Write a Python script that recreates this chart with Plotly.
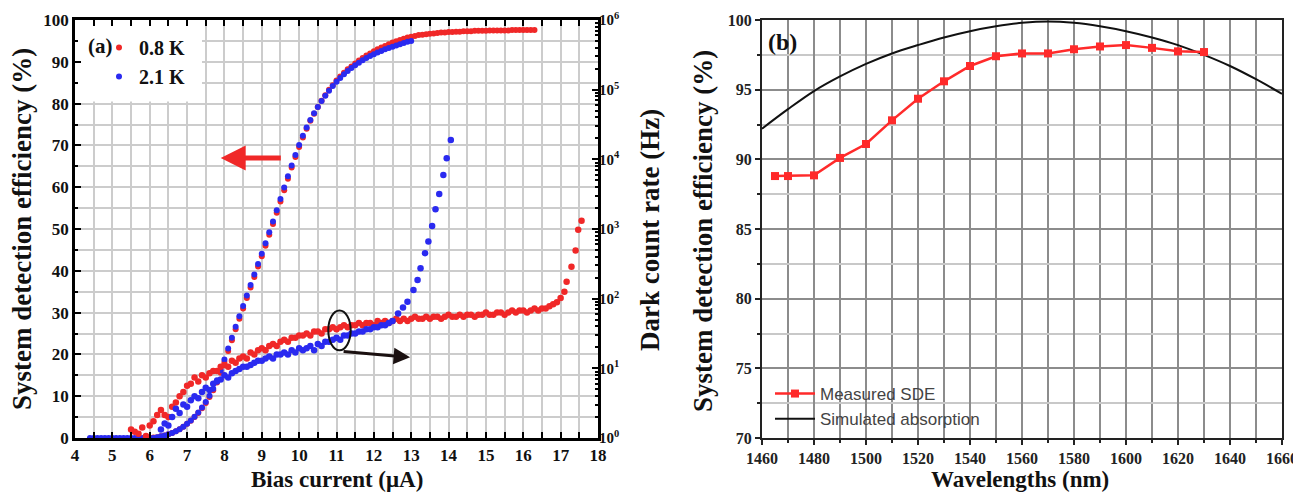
import plotly.graph_objects as go

# ---------------- Panel (a) data ----------------
# Blue (2.1 K) system detection efficiency (%)
blue_sde_I = [4.4, 4.5, 4.6, 4.7, 4.8, 4.9,
              5.0, 5.1, 5.2, 5.3, 5.4, 5.5, 5.6, 5.7, 5.8, 5.9,
              6.0, 6.1, 6.2, 6.3, 6.4, 6.5, 6.6, 6.7, 6.8, 6.9,
              7.0, 7.1, 7.2, 7.3, 7.4, 7.5, 7.6, 7.7, 7.8, 7.9,
              8.0, 8.1, 8.2, 8.3, 8.4, 8.5, 8.6, 8.7, 8.8, 8.9,
              9.0, 9.1, 9.2, 9.3, 9.4, 9.5, 9.6, 9.7, 9.8, 9.9,
              10.0, 10.1, 10.2, 10.3, 10.4, 10.5, 10.6, 10.7, 10.8, 10.9,
              11.0, 11.1, 11.2, 11.3, 11.4, 11.5, 11.6, 11.7, 11.8, 11.9,
              12.0, 12.1, 12.2, 12.3, 12.4, 12.5, 12.6, 12.7, 12.8, 12.9,
              13.0]
blue_sde = [0, 0, 0, 0, 0, 0,
            0, 0, 0, 0, 0, 0, 0, 0, 0, 0,
            0, 0, 0.2, 0.4, 0.6, 0.9, 1.2, 1.6, 2.1, 2.7,
            3.4, 4.2, 5.1, 6.1, 7.3, 8.6, 10.1, 11.8, 13.8, 16.2,
            18.8, 21.4, 24.0, 26.6, 29.1, 31.6, 34.1, 36.6, 39.1, 41.6,
            44.1, 46.6, 49.2, 51.8, 54.5, 57.2, 59.9, 62.6, 65.2, 67.7,
            70.1, 72.3, 74.3, 76.1, 77.7, 79.2, 80.6, 81.9, 83.1, 84.2,
            85.2, 86.1, 87.0, 87.8, 88.5, 89.2, 89.8, 90.4, 90.9, 91.4,
            91.8, 92.2, 92.6, 93.0, 93.3, 93.6, 93.9, 94.2, 94.5, 94.8,
            95.0]

# Red (0.8 K) system detection efficiency (%)
red_sde_I = [6.0, 6.1, 6.2, 6.3, 6.4, 6.5, 6.6, 6.7, 6.8, 6.9,
             7.0, 7.1, 7.2, 7.3, 7.4, 7.5, 7.6, 7.7, 7.8, 7.9,
             8.0, 8.1, 8.2, 8.3, 8.4, 8.5, 8.6, 8.7, 8.8, 8.9,
             9.0, 9.1, 9.2, 9.3, 9.4, 9.5, 9.6, 9.7, 9.8, 9.9,
             10.0, 10.1, 10.2, 10.3, 10.4, 10.5, 10.6, 10.7, 10.8, 10.9,
             11.0, 11.1, 11.2, 11.3, 11.4, 11.5, 11.6, 11.7, 11.8, 11.9,
             12.0, 12.1, 12.2, 12.3, 12.4, 12.5, 12.6, 12.7, 12.8, 12.9,
             13.0, 13.1, 13.2, 13.3, 13.4, 13.5, 13.6, 13.7, 13.8, 13.9,
             14.0, 14.1, 14.2, 14.3, 14.4, 14.5, 14.6, 14.7, 14.8, 14.9,
             15.0, 15.1, 15.2, 15.3, 15.4, 15.5, 15.6, 15.7, 15.8, 15.9,
             16.0, 16.1, 16.2, 16.3]
red_sde = [0.0, 0.1, 0.2, 0.4, 0.6, 0.9, 1.2, 1.6, 2.1, 2.7,
           3.4, 4.1, 5.0, 6.0, 7.1, 8.4, 9.8, 11.4, 13.3, 15.6,
           18.2, 20.8, 23.4, 26.0, 28.5, 31.0, 33.5, 36.0, 38.5, 41.0,
           43.5, 46.0, 48.6, 51.2, 53.9, 56.6, 59.3, 62.0, 64.7, 67.2,
           69.6, 71.9, 74.0, 75.9, 77.6, 79.2, 80.7, 82.0, 83.3, 84.4,
           85.5, 86.5, 87.4, 88.2, 88.9, 89.6, 90.3, 90.9, 91.5, 92.0,
           92.5, 93.0, 93.4, 93.8, 94.2, 94.6, 94.9, 95.2, 95.5, 95.8,
           96.0, 96.2, 96.4, 96.5, 96.6, 96.7, 96.8, 96.9, 97.0, 97.0,
           97.1, 97.1, 97.2, 97.2, 97.3, 97.3, 97.3, 97.4, 97.4, 97.4,
           97.4, 97.5, 97.5, 97.5, 97.5, 97.5, 97.5, 97.6, 97.6, 97.6,
           97.6, 97.6, 97.6, 97.6]

# Red (0.8 K) dark count rate (Hz)
red_dcr_I = [5.5, 5.6, 5.7, 5.8, 5.9,
             6.0, 6.1, 6.2, 6.3, 6.4, 6.5, 6.6, 6.7, 6.8, 6.9,
             7.0, 7.1, 7.2, 7.3, 7.4, 7.5, 7.6, 7.7, 7.8, 7.9,
             8.0, 8.1, 8.2, 8.3, 8.4, 8.5, 8.6, 8.7, 8.8, 8.9,
             9.0, 9.1, 9.2, 9.3, 9.4, 9.5, 9.6, 9.7, 9.8, 9.9,
             10.0, 10.1, 10.2, 10.3, 10.4, 10.5, 10.6, 10.7, 10.8, 10.9,
             11.0, 11.1, 11.2, 11.3, 11.4, 11.5, 11.6, 11.7, 11.8, 11.9,
             12.0, 12.1, 12.2, 12.3, 12.4, 12.5, 12.6, 12.7, 12.8, 12.9,
             13.0, 13.1, 13.2, 13.3, 13.4, 13.5, 13.6, 13.7, 13.8, 13.9,
             14.0, 14.1, 14.2, 14.3, 14.4, 14.5, 14.6, 14.7, 14.8, 14.9,
             15.0, 15.1, 15.2, 15.3, 15.4, 15.5, 15.6, 15.7, 15.8, 15.9,
             16.0, 16.1, 16.2, 16.3, 16.4, 16.5, 16.6, 16.7, 16.8, 16.9,
             17.0, 17.1, 17.16, 17.29, 17.4, 17.47, 17.56]
red_dcr = [1.32, 1.23, 1.15, 1.41, 1.07,
           1.51, 1.74, 2.14, 2.52, 2.14, 2.00, 2.82, 3.24, 3.98, 4.57,
           5.62, 6.03, 7.41, 6.46, 7.94, 7.41, 8.51, 9.12, 9.12, 10.5,
           11.2, 10.5, 12.9, 12.0, 13.8, 14.8, 13.8, 16.9, 15.8, 18.2,
           19.5, 18.2, 20.9, 22.4, 20.9, 24.0, 25.7, 24.0, 27.5, 27.5,
           29.5, 29.5, 31.6, 29.5, 33.9, 33.9, 31.6, 36.3, 36.3, 38.9,
           36.3, 38.9, 41.7, 38.9, 41.7, 41.7, 44.7, 41.7, 44.7, 44.7,
           41.7, 47.9, 44.7, 47.9, 44.7, 47.9, 51.3, 47.9, 51.3, 47.9,
           51.3, 55.0, 51.3, 51.3, 55.0, 51.3, 55.0, 55.0, 51.3, 55.0,
           58.9, 55.0, 55.0, 58.9, 55.0, 58.9, 58.9, 55.0, 58.9, 58.9,
           63.1, 58.9, 58.9, 63.1, 63.1, 58.9, 63.1, 67.6, 63.1, 67.6,
           67.6, 63.1, 67.6, 72.4, 67.6, 72.4, 72.4, 77.6, 83.2, 89.1,
           102, 126, 175, 288, 490, 977, 1318]

# Blue (2.1 K) dark count rate (Hz)
blue_dcr_I = [6.3, 6.4, 6.5, 6.6, 6.7, 6.8, 6.9,
              7.0, 7.1, 7.2, 7.3, 7.4, 7.5, 7.6, 7.7, 7.8, 7.9,
              8.0, 8.1, 8.2, 8.3, 8.4, 8.5, 8.6, 8.7, 8.8, 8.9,
              9.0, 9.1, 9.2, 9.3, 9.4, 9.5, 9.6, 9.7, 9.8, 9.9,
              10.0, 10.1, 10.2, 10.3, 10.4, 10.5, 10.6, 10.7, 10.8, 10.9,
              11.0, 11.1, 11.2, 11.3, 11.4, 11.5, 11.6, 11.7, 11.8, 11.9,
              12.0, 12.1, 12.2, 12.3, 12.4, 12.5,
              12.65, 12.78, 12.9, 13.06, 13.17, 13.25, 13.37, 13.46, 13.56,
              13.65, 13.75, 13.86, 13.95, 14.06]
blue_dcr = [1.32, 1.62, 1.51, 2.00, 2.63, 2.29, 3.02,
            2.82, 3.47, 3.98, 3.72, 4.57, 5.25, 4.90, 6.03, 6.46, 6.92,
            7.94, 7.41, 8.51, 9.12, 9.77, 10.5, 10.5, 11.2, 12.0, 12.9,
            12.9, 13.8, 14.8, 13.8, 15.8, 15.8, 16.9, 15.8, 18.2, 16.9,
            19.5, 18.2, 19.5, 20.9, 18.2, 22.4, 20.9, 24.0, 24.0, 25.7,
            27.5, 25.7, 29.5, 29.5, 31.6, 31.6, 33.9, 33.9, 36.3, 36.3,
            38.9, 38.9, 41.7, 41.7, 44.7, 47.9,
            61.4, 74.5, 90.4, 133, 185, 273, 449, 661, 1102,
            1914, 3192, 5943, 10328, 18967]

# ---------------- Panel (b) data ----------------
meas_wl = [1465, 1470, 1480, 1490, 1500, 1510, 1520, 1530, 1540,
           1550, 1560, 1570, 1580, 1590, 1600, 1610, 1620, 1630]
meas_sde = [88.8, 88.8, 88.85, 90.1, 91.1, 92.8, 94.35, 95.6, 96.7,
            97.4, 97.6, 97.6, 97.9, 98.1, 98.2, 98.0, 97.75, 97.7]
sim_wl = [1460, 1470, 1480, 1490, 1500, 1510, 1520, 1530, 1540, 1550, 1560,
          1570, 1580, 1590, 1600, 1610, 1620, 1630, 1640, 1650, 1660]
sim_abs = [92.2, 93.6, 94.9, 95.95, 96.85, 97.6, 98.2, 98.75, 99.2, 99.55, 99.8,
           99.9, 99.8, 99.55, 99.2, 98.75, 98.2, 97.5, 96.7, 95.75, 94.7]

a_xticks = [4, 5, 6, 7, 8, 9, 10, 11, 12, 13, 14, 15, 16, 17, 18]
a_yticks = [0, 10, 20, 30, 40, 50, 60, 70, 80, 90, 100]
dcr_tickvals = [1, 10, 100, 1000, 10000, 100000, 1000000]
dcr_ticktext = ["10<sup>0</sup>", "10<sup>1</sup>", "10<sup>2</sup>", "10<sup>3</sup>",
                "10<sup>4</sup>", "10<sup>5</sup>", "10<sup>6</sup>"]
b_xticks = [1460, 1480, 1500, 1520, 1540, 1560, 1580, 1600, 1620, 1640, 1660]
b_yticks = [70, 75, 80, 85, 90, 95, 100]

RED = "#f02828"
BLUE = "#2a2af0"
SERIF = "Liberation Serif"
SANS = "Liberation Sans"
W, H = 1293, 493

fig = go.Figure()

# Panel (a) traces
fig.add_trace(go.Scatter(x=red_sde_I, y=red_sde, mode="markers", name="0.8 K",
                         marker=dict(color=RED, size=6), xaxis="x", yaxis="y",
                         legend="legend", legendgroup="r", cliponaxis=False))
fig.add_trace(go.Scatter(x=red_dcr_I, y=red_dcr, mode="markers", name="0.8 K dcr",
                         marker=dict(color=RED, size=6.5), xaxis="x", yaxis="y2",
                         showlegend=False))
fig.add_trace(go.Scatter(x=blue_dcr_I, y=blue_dcr, mode="markers", name="2.1 K dcr",
                         marker=dict(color=BLUE, size=6.5), xaxis="x", yaxis="y2",
                         showlegend=False))
fig.add_trace(go.Scatter(x=blue_sde_I, y=blue_sde, mode="markers", name="2.1 K",
                         marker=dict(color=BLUE, size=6), xaxis="x", yaxis="y",
                         legend="legend", legendgroup="b", cliponaxis=False))

# Panel (b) traces
fig.add_trace(go.Scatter(x=sim_wl, y=sim_abs, mode="lines", name="Simulated absorption",
                         line=dict(color="#111111", width=2, shape="spline"),
                         xaxis="x2", yaxis="y3", legend="legend2"))
fig.add_trace(go.Scatter(x=meas_wl, y=meas_sde, mode="lines+markers", name="Measured SDE",
                         line=dict(color="#ff2a2a", width=2.5),
                         marker=dict(color="#ff2a2a", size=8, symbol="square"),
                         xaxis="x2", yaxis="y3", legend="legend2"))

grid_a = "#cccccc"
tickfont_a = dict(family=SERIF, size=17, color="#111111", weight="bold")
tickfont_b = dict(family=SERIF, size=16, color="#222222", weight="bold")

fig.update_layout(
    width=W, height=H,
    margin=dict(l=0, r=0, t=0, b=0, autoexpand=False),
    paper_bgcolor="white", plot_bgcolor="white",
    xaxis=dict(domain=[75 / W, 598 / W], range=[4, 18], anchor="y", automargin=False,
               tickmode="array", tickvals=a_xticks, ticklabeloverflow="allow",
               ticks="inside", ticklen=6, tickwidth=2, tickcolor="black",
               showline=True, linewidth=2.5, linecolor="black", mirror="allticks",
               showgrid=True, gridcolor=grid_a, gridwidth=1.5, zeroline=False,
               minor=dict(dtick=0.5, tick0=4, ticks="inside", ticklen=3, tickcolor="black",
                          showgrid=True, gridcolor=grid_a, gridwidth=1.5),
               tickfont=tickfont_a),
    yaxis=dict(domain=[1 - 438 / H, 1 - 20 / H], range=[0, 100], anchor="x", automargin=False,
               tickmode="array", tickvals=a_yticks, ticklabeloverflow="allow",
               ticks="inside", ticklen=6, tickwidth=2, tickcolor="black",
               showline=True, linewidth=2.5, linecolor="black", mirror=True,
               showgrid=True, gridcolor=grid_a, gridwidth=1.5, zeroline=False,
               minor=dict(dtick=5, tick0=0, ticks="inside", ticklen=3, tickcolor="black",
                          showgrid=True, gridcolor=grid_a, gridwidth=1.5),
               tickfont=tickfont_a),
    yaxis2=dict(type="log", range=[0, 6], overlaying="y", side="right", anchor="x",
                automargin=False, ticklabeloverflow="allow",
                tickmode="array", tickvals=dcr_tickvals, ticktext=dcr_ticktext,
                ticks="inside", ticklen=6, tickwidth=2, tickcolor="black",
                showgrid=False, zeroline=False, showline=False,
                minor=dict(ticks="inside", ticklen=3, tickcolor="black", dtick="D1"),
                tickfont=dict(family=SERIF, size=15, color="#111111", weight="bold")),
    xaxis2=dict(domain=[762 / W, 1282 / W], range=[1460, 1660], anchor="y3", automargin=False,
                tickmode="array", tickvals=b_xticks, ticklabeloverflow="allow",
                ticks="outside", ticklen=5, tickwidth=1.5, tickcolor="#222222",
                showline=True, linewidth=2, linecolor="#222222", mirror=True,
                showgrid=True, gridcolor="#8c8c8c", gridwidth=1.5, zeroline=False,
                minor=dict(dtick=10, tick0=1460, ticks="outside", ticklen=3, tickcolor="#222222",
                           showgrid=True, gridcolor="#8c8c8c", gridwidth=1.5),
                tickfont=tickfont_b),
    yaxis3=dict(domain=[1 - 438 / H, 1 - 20 / H], range=[70, 100], anchor="x2", automargin=False,
                tickmode="array", tickvals=b_yticks, ticklabeloverflow="allow",
                ticks="outside", ticklen=5, tickwidth=1.5, tickcolor="#222222",
                showline=True, linewidth=2, linecolor="#222222", mirror=True,
                showgrid=True, gridcolor="#8c8c8c", gridwidth=1.5, zeroline=False,
                minor=dict(dtick=2.5, tick0=70, ticks="outside", ticklen=3, tickcolor="#222222",
                           showgrid=True, gridcolor="#c8c8c8", gridwidth=1.5),
                tickfont=tickfont_b),
    legend=dict(x=99 / W, y=1 - 28 / H, xanchor="left", yanchor="top",
                bgcolor="rgba(0,0,0,0)", borderwidth=0, tracegroupgap=14,
                font=dict(family=SERIF, size=20, color="#111111", weight="bold"),
                itemwidth=30, traceorder="normal"),
    legend2=dict(x=770 / W, y=1 - 376 / H, xanchor="left", yanchor="top",
                 bgcolor="rgba(0,0,0,0)", borderwidth=0, traceorder="reversed",
                 font=dict(family=SANS, size=17, color="#444444"), itemwidth=40),
    showlegend=True,
)

vt_font = dict(family=SERIF, size=27, color="#111111", weight="bold")
ht_font = dict(family=SERIF, size=23, color="#111111", weight="bold")
annotations = [
    dict(text="System detection efficiency (%)", x=22 / W, y=1 - 229 / H,
         xref="paper", yref="paper", xanchor="center", yanchor="middle",
         textangle=-90, showarrow=False, font=vt_font),
    dict(text="Bias current (μA)", x=337 / W, y=1 - 479 / H,
         xref="paper", yref="paper", xanchor="center", yanchor="middle",
         showarrow=False, font=ht_font),
    dict(text="Dark count rate (Hz)", x=650 / W, y=1 - 230 / H,
         xref="paper", yref="paper", xanchor="center", yanchor="middle",
         textangle=-90, showarrow=False, font=vt_font),
    dict(text="System detection efficiency (%)", x=703 / W, y=1 - 231 / H,
         xref="paper", yref="paper", xanchor="center", yanchor="middle",
         textangle=-90, showarrow=False, font=vt_font),
    dict(text="Wavelengths (nm)", x=1020 / W, y=1 - 479 / H,
         xref="paper", yref="paper", xanchor="center", yanchor="middle",
         showarrow=False, font=ht_font),
    dict(text="(a)", x=100 / W, y=1 - 46 / H, xref="paper", yref="paper",
         xanchor="center", yanchor="middle", showarrow=False,
         font=dict(family=SERIF, size=21, color="#111111", weight="bold")),
    dict(text="(b)", x=782 / W, y=1 - 42 / H, xref="paper", yref="paper",
         xanchor="center", yanchor="middle", showarrow=False,
         font=dict(family=SERIF, size=24, color="#111111", weight="bold")),
    # red arrow (pointing to left axis)
    dict(x=7.9, y=67, ax=9.55, ay=67, xref="x", yref="y", axref="x", ayref="y",
         showarrow=True, arrowhead=2, arrowsize=1, arrowwidth=5, arrowcolor=RED, text=""),
    # black arrow (pointing to right axis)
    dict(x=12.97, y=19.3, ax=11.15, ay=20.7, xref="x", yref="y", axref="x", ayref="y",
         showarrow=True, arrowhead=2, arrowsize=1.1, arrowwidth=3, arrowcolor="#1a1010", text=""),
]
fig.update_layout(annotations=annotations)
# ellipse marking the DCR curves
fig.add_shape(type="circle", xref="x", yref="y", x0=10.78, x1=11.38, y0=21, y1=30.5,
              line=dict(color="#111111", width=2))
# white box behind the legend of panel (a)
fig.add_shape(type="rect", xref="x", yref="y", x0=4.05, x1=7.4, y0=80.5, y1=99.2,
              fillcolor="white", line=dict(width=0), layer="between")

fig.write_html("out.html", config={"displayModeBar": False},
               post_script="document.body.style.margin='0';document.body.style.overflow='hidden';")
